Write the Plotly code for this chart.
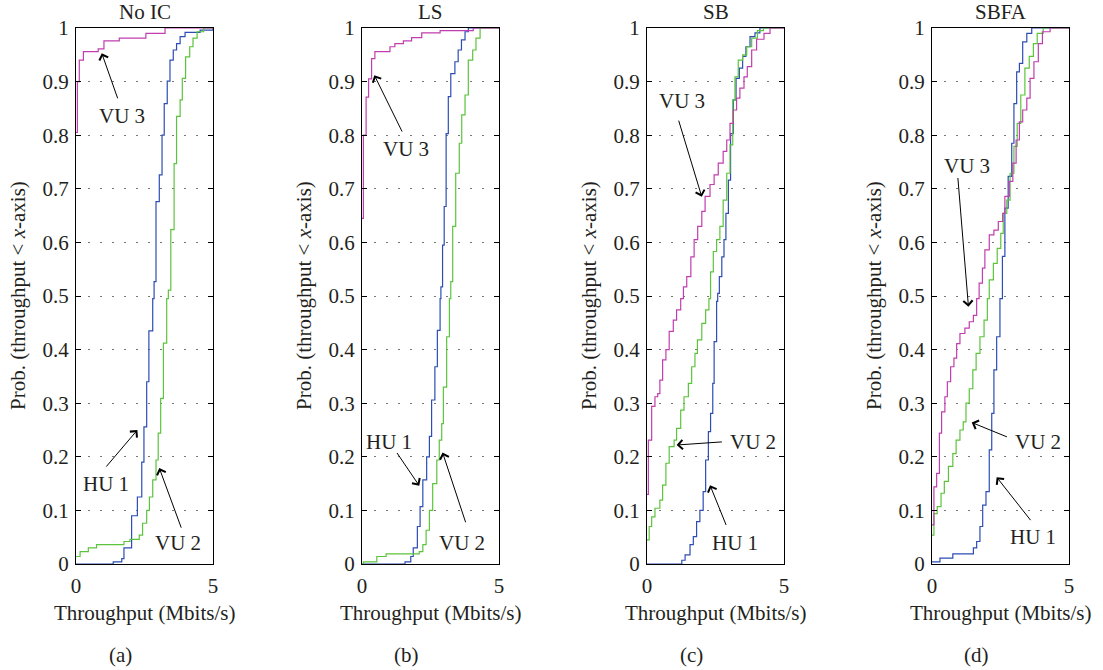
import plotly.graph_objects as go

# ---------------- data ----------------
panels = ["No IC", "LS", "SB", "SBFA"]
sublabels = ["(a)", "(b)", "(c)", "(d)"]

# Panel (a) No IC
a_hu1_x = [0, 1.36, 1.67, 1.75, 2.03, 2.24, 2.40, 2.48, 2.58, 2.66, 2.80, 2.85, 2.92, 3.04, 3.14, 3.22, 3.33, 3.43, 3.55, 3.67, 3.80, 3.98, 4.53, 5.0]
a_hu1_y = [0, 0.004, 0.010, 0.030, 0.090, 0.125, 0.190, 0.256, 0.340, 0.435, 0.495, 0.527, 0.676, 0.726, 0.800, 0.859, 0.901, 0.940, 0.959, 0.971, 0.984, 0.992, 0.996, 1.0]
a_vu2_x = [0, 0.15, 0.45, 0.75, 1.75, 1.97, 2.31, 2.43, 2.58, 2.68, 2.80, 2.92, 3.00, 3.09, 3.19, 3.31, 3.37, 3.46, 3.58, 3.67, 3.80, 3.88, 4.00, 4.15, 4.27, 4.42, 4.66, 5.0]
a_vu2_y = [0.014, 0.023, 0.030, 0.036, 0.042, 0.046, 0.054, 0.076, 0.100, 0.125, 0.157, 0.194, 0.244, 0.309, 0.412, 0.495, 0.511, 0.624, 0.747, 0.835, 0.866, 0.906, 0.946, 0.965, 0.981, 0.993, 1.0, 1.0]
a_vu3_x = [0, 0.05, 0.12, 0.27, 0.81, 1.02, 1.58, 2.55, 3.25, 5.0]
a_vu3_y = [0.805, 0.900, 0.940, 0.956, 0.961, 0.976, 0.981, 0.990, 1.0, 1.0]

# Panel (b) LS
b_hu1_x = [0, 1.57, 1.78, 1.87, 2.02, 2.12, 2.22, 2.36, 2.46, 2.54, 2.66, 2.75, 2.85, 2.88, 2.94, 3.00, 3.07, 3.15, 3.24, 3.39, 3.51, 3.63, 3.76, 3.88, 5.0]
b_hu1_y = [0, 0.004, 0.014, 0.030, 0.070, 0.107, 0.157, 0.200, 0.238, 0.306, 0.368, 0.436, 0.495, 0.517, 0.595, 0.667, 0.803, 0.872, 0.915, 0.937, 0.959, 0.978, 0.993, 1.0, 1.0]
b_vu2_x = [0, 0.05, 0.54, 0.88, 2.09, 2.22, 2.34, 2.46, 2.58, 2.73, 2.82, 2.91, 2.97, 3.09, 3.19, 3.24, 3.31, 3.42, 3.55, 3.64, 3.76, 3.88, 4.04, 4.16, 4.31, 5.0]
b_vu2_y = [0, 0.004, 0.014, 0.019, 0.023, 0.036, 0.063, 0.100, 0.150, 0.194, 0.231, 0.262, 0.330, 0.424, 0.495, 0.527, 0.630, 0.729, 0.785, 0.838, 0.875, 0.940, 0.959, 0.981, 1.0, 1.0]
b_vu3_x = [0, 0.05, 0.15, 0.24, 0.35, 0.47, 1.02, 1.20, 1.51, 1.81, 2.18, 2.85, 4.06, 5.0]
b_vu3_y = [0.645, 0.800, 0.871, 0.905, 0.943, 0.956, 0.965, 0.971, 0.976, 0.982, 0.991, 0.995, 1.0, 1.0]

# Panel (c) SB
c_hu1_x = [0, 1.27, 1.39, 1.57, 1.69, 1.81, 1.93, 2.05, 2.14, 2.24, 2.32, 2.40, 2.45, 2.54, 2.58, 2.64, 2.73, 2.81, 2.88, 2.97, 3.05, 3.15, 3.25, 3.37, 3.49, 3.61, 3.76, 3.94, 4.12, 5.0]
c_hu1_y = [0, 0.007, 0.017, 0.036, 0.051, 0.079, 0.100, 0.135, 0.194, 0.247, 0.281, 0.337, 0.415, 0.490, 0.505, 0.536, 0.573, 0.605, 0.654, 0.716, 0.803, 0.866, 0.906, 0.925, 0.947, 0.965, 0.984, 0.991, 1.0, 1.0]
c_vu2_x = [0, 0.08, 0.17, 0.29, 0.47, 0.57, 0.69, 0.81, 0.99, 1.08, 1.23, 1.35, 1.51, 1.63, 1.75, 1.84, 2.00, 2.14, 2.26, 2.32, 2.42, 2.54, 2.66, 2.78, 2.91, 3.03, 3.13, 3.21, 3.33, 3.49, 3.64, 3.82, 4.03, 4.25, 5.0]
c_vu2_y = [0.045, 0.070, 0.088, 0.104, 0.119, 0.147, 0.188, 0.219, 0.231, 0.253, 0.287, 0.312, 0.337, 0.368, 0.393, 0.418, 0.449, 0.474, 0.495, 0.545, 0.583, 0.605, 0.630, 0.679, 0.729, 0.782, 0.866, 0.909, 0.940, 0.950, 0.965, 0.981, 0.995, 1.0, 1.0]
c_vu3_x = [0, 0.05, 0.17, 0.29, 0.39, 0.47, 0.57, 0.69, 0.81, 0.96, 1.08, 1.23, 1.33, 1.45, 1.60, 1.72, 1.85, 2.00, 2.12, 2.30, 2.45, 2.60, 2.78, 2.91, 3.03, 3.15, 3.27, 3.39, 3.54, 3.66, 3.82, 4.00, 4.27, 4.49, 5.0]
c_vu3_y = [0.130, 0.231, 0.294, 0.312, 0.318, 0.343, 0.381, 0.400, 0.434, 0.455, 0.474, 0.495, 0.517, 0.536, 0.573, 0.605, 0.630, 0.658, 0.686, 0.708, 0.726, 0.748, 0.770, 0.791, 0.822, 0.847, 0.869, 0.888, 0.909, 0.928, 0.959, 0.979, 0.990, 1.0, 1.0]

# Panel (d) SBFA
d_hu1_x = [0, 0.29, 0.76, 1.51, 1.63, 1.75, 1.85, 1.97, 2.09, 2.18, 2.26, 2.36, 2.48, 2.57, 2.66, 2.78, 2.91, 2.99, 3.09, 3.19, 3.31, 3.46, 3.64, 5.0]
d_hu1_y = [0.004, 0.011, 0.019, 0.030, 0.042, 0.070, 0.110, 0.135, 0.213, 0.281, 0.362, 0.424, 0.495, 0.574, 0.664, 0.723, 0.785, 0.859, 0.918, 0.934, 0.974, 0.990, 1.0, 1.0]
d_vu2_x = [0, 0.07, 0.19, 0.33, 0.45, 0.60, 0.76, 0.88, 1.02, 1.14, 1.24, 1.36, 1.49, 1.61, 1.75, 1.90, 2.02, 2.09, 2.24, 2.38, 2.51, 2.60, 2.73, 2.85, 2.99, 3.11, 3.24, 3.39, 3.55, 3.70, 3.84, 4.06, 5.0]
d_vu2_y = [0.054, 0.094, 0.107, 0.132, 0.154, 0.182, 0.206, 0.231, 0.250, 0.265, 0.300, 0.327, 0.362, 0.393, 0.424, 0.455, 0.495, 0.530, 0.561, 0.589, 0.617, 0.654, 0.679, 0.729, 0.779, 0.822, 0.875, 0.925, 0.947, 0.971, 0.990, 1.0, 1.0]
d_vu3_x = [0, 0.07, 0.17, 0.27, 0.35, 0.47, 0.56, 0.68, 0.80, 0.90, 1.02, 1.20, 1.36, 1.51, 1.63, 1.72, 1.84, 1.93, 2.09, 2.26, 2.42, 2.58, 2.66, 2.82, 2.95, 3.07, 3.19, 3.31, 3.46, 3.58, 3.72, 3.88, 4.03, 4.31, 5.0]
d_vu3_y = [0.073, 0.144, 0.169, 0.244, 0.284, 0.312, 0.340, 0.368, 0.384, 0.411, 0.430, 0.440, 0.452, 0.464, 0.495, 0.524, 0.552, 0.586, 0.614, 0.623, 0.639, 0.654, 0.686, 0.714, 0.748, 0.791, 0.825, 0.847, 0.869, 0.906, 0.937, 0.971, 0.993, 1.0, 1.0]

series = [
    [(a_hu1_x, a_hu1_y), (a_vu2_x, a_vu2_y), (a_vu3_x, a_vu3_y)],
    [(b_hu1_x, b_hu1_y), (b_vu2_x, b_vu2_y), (b_vu3_x, b_vu3_y)],
    [(c_hu1_x, c_hu1_y), (c_vu2_x, c_vu2_y), (c_vu3_x, c_vu3_y)],
    [(d_hu1_x, d_hu1_y), (d_vu2_x, d_vu2_y), (d_vu3_x, d_vu3_y)],
]
series_names = ["HU 1", "VU 2", "VU 3"]

# label annotations: (text, text_x, text_y, tail_x, tail_y, head_x, head_y) in data units
labels = [
    [("VU 3", 1.67, 0.835, 1.54, 0.866, 0.94, 0.953),
     ("HU 1", 1.10, 0.149, 1.06, 0.179, 2.24, 0.250),
     ("VU 2", 3.73, 0.040, 3.86, 0.065, 3.04, 0.179)],
    [("VU 3", 1.61, 0.774, 1.49, 0.804, 0.45, 0.912),
     ("HU 1", 1.00, 0.228, 1.24, 0.210, 2.09, 0.146),
     ("VU 2", 3.64, 0.040, 3.80, 0.075, 2.94, 0.208)],
    [("VU 3", 1.27, 0.864, 1.14, 0.830, 2.00, 0.685),
     ("VU 2", 3.88, 0.228, 2.79, 0.228, 1.08, 0.222),
     ("HU 1", 3.21, 0.040, 2.91, 0.070, 2.30, 0.147)],
    [("VU 3", 1.29, 0.743, 0.94, 0.723, 1.33, 0.480),
     ("VU 2", 3.88, 0.228, 2.79, 0.236, 1.45, 0.264),
     ("HU 1", 3.70, 0.050, 3.64, 0.079, 2.36, 0.162)],
]

x_range = [0, 5]
x_ticks = [0, 5]
y_ticks = [0, 0.1, 0.2, 0.3, 0.4, 0.5, 0.6, 0.7, 0.8, 0.9, 1]
y_ticktext = ["0", "0.1", "0.2", "0.3", "0.4", "0.5", "0.6", "0.7", "0.8", "0.9", "1"]

# ---------------- styling / layout ----------------
W, H = 1103, 670
colors = ["#2d4db5", "#5cc43c", "#c13eae"]
FONT = "Liberation Serif, Times New Roman, serif"
FS = 21
TXT = "#231f20"

plot_left_px = [76, 362, 647, 932]
plot_w_px = 137
plot_top_px, plot_bot_px = 28, 564

fig = go.Figure()
layout = dict(
    width=W, height=H, autosize=False, margin=dict(l=0, r=0, t=0, b=0, pad=0, autoexpand=False),
    paper_bgcolor="white", plot_bgcolor="white", showlegend=False,
    font=dict(family=FONT, size=FS, color=TXT),
)
annotations = []

for i in range(4):
    sfx = "" if i == 0 else str(i + 1)
    xa, ya = "x" + sfx, "y" + sfx
    x0 = plot_left_px[i] / W
    x1 = (plot_left_px[i] + plot_w_px) / W
    y0 = 1 - plot_bot_px / H
    y1 = 1 - plot_top_px / H
    layout["xaxis" + sfx] = dict(
        domain=[x0, x1], anchor=ya, range=x_range, tickvals=x_ticks, automargin=False,
        ticks="", showgrid=False, zeroline=False, showline=True,
        linecolor="black", linewidth=1, mirror=True,
        tickfont=dict(family=FONT, size=FS, color=TXT), ticklabelstandoff=3,
    )
    layout["yaxis" + sfx] = dict(
        domain=[y0, y1], anchor=xa, range=[0, 1], tickvals=y_ticks, ticktext=y_ticktext,
        automargin=False,
        ticks="inside", ticklen=5, tickcolor="black", tickwidth=1,
        showgrid=True, gridcolor="#777777", griddash="2px,10px", gridwidth=1,
        zeroline=False, showline=True, linecolor="black", linewidth=1, mirror="ticks",
        tickfont=dict(family=FONT, size=FS, color=TXT), ticklabelstandoff=2,
    )
    for k, (xs, ys) in enumerate(series[i]):
        fig.add_trace(go.Scatter(
            x=xs, y=ys, mode="lines", line=dict(color=colors[k], width=1.2, shape="hv"),
            name=series_names[k], xaxis=xa, yaxis=ya, cliponaxis=True,
        ))
    cx = (plot_left_px[i] + plot_w_px / 2) / W
    # panel title
    annotations.append(dict(text=panels[i], x=cx, y=1 - 12.5 / H, xref="paper", yref="paper",
                            showarrow=False, xanchor="center", yanchor="middle",
                            font=dict(family=FONT, size=FS, color=TXT)))
    # x title
    annotations.append(dict(text="Throughput (Mbits/s)", x=cx, y=1 - 613 / H, xref="paper", yref="paper",
                            showarrow=False, xanchor="center", yanchor="middle",
                            font=dict(family=FONT, size=FS, color=TXT)))
    # sub label
    annotations.append(dict(text=sublabels[i], x=(plot_left_px[i] + plot_w_px / 2 - 24) / W, y=1 - 655 / H,
                            xref="paper", yref="paper", showarrow=False, xanchor="center", yanchor="middle",
                            font=dict(family=FONT, size=FS, color=TXT)))
    # y title
    annotations.append(dict(text="Prob. (throughput < <i>x</i>-axis)", x=(plot_left_px[i] - 58) / W,
                            y=1 - 296 / H, xref="paper", yref="paper", showarrow=False, textangle=-90,
                            xanchor="center", yanchor="middle",
                            font=dict(family=FONT, size=FS, color=TXT)))
    # curve labels + arrows
    for (t, tx, ty, ax_, ay_, hx, hy) in labels[i]:
        annotations.append(dict(text=t, x=tx, y=ty, xref=xa, yref=ya, showarrow=False,
                                xanchor="center", yanchor="middle",
                                font=dict(family=FONT, size=FS, color=TXT)))
        annotations.append(dict(text="", x=hx, y=hy, xref=xa, yref=ya, ax=ax_, ay=ay_,
                                axref=xa, ayref=ya, showarrow=True, arrowhead=4,
                                arrowsize=1.8, arrowwidth=1, arrowcolor="black", standoff=0))

layout["annotations"] = annotations
fig.update_layout(**layout)
fig.write_html("out.html")
